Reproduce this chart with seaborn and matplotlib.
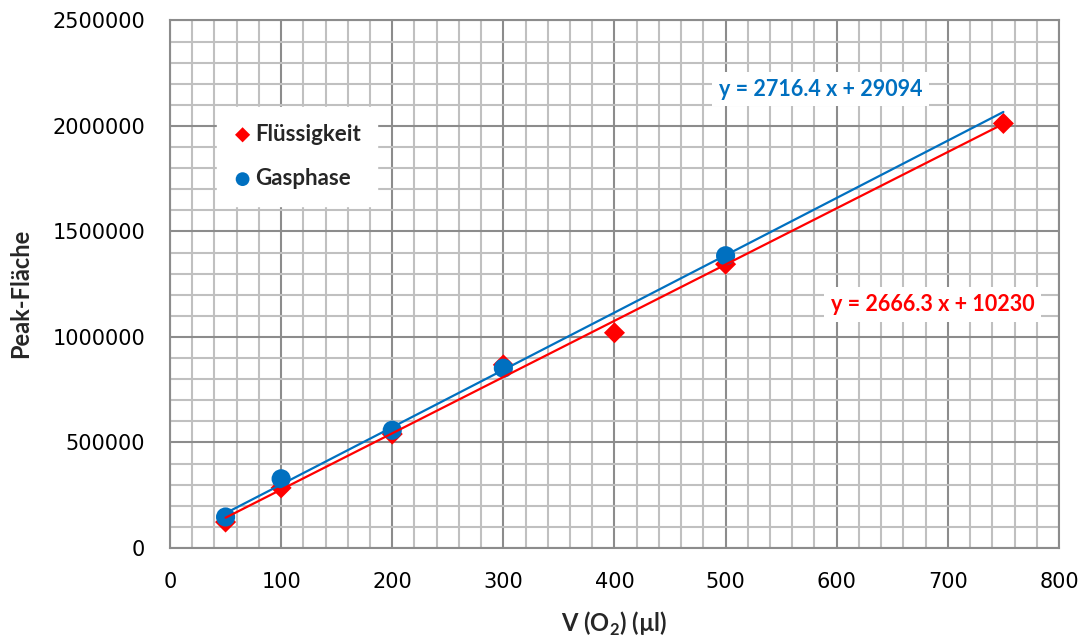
import numpy as np
import pandas as pd
import matplotlib
matplotlib.use("Agg")
import matplotlib.pyplot as plt
import seaborn as sns
from matplotlib.ticker import MultipleLocator

# data
x_fluessig = [50, 100, 200, 300, 400, 500, 750]
y_fluessig = [123000, 285000, 540000, 868000, 1020000, 1345000, 2012000]
x_gas = [50, 100, 200, 300, 500]
y_gas = [147000, 328000, 558000, 852000, 1385000]
# trendline coefficients as printed on the chart
fit_fluessig = (2666.3, 10230)
fit_gas = (2716.4, 29094)
fit_range = [50, 750]

red = "#ff0000"
blue = "#0070c0"

sns.set_theme(style="white")
plt.rcParams["font.family"] = ["DejaVu Sans"]
plt.rcParams["mathtext.fontset"] = "custom"
plt.rcParams["mathtext.rm"] = "Lato"
plt.rcParams["mathtext.bf"] = "Lato:bold"

fig = plt.figure(figsize=(10.87, 6.39), dpi=100)
ax = fig.add_axes([0.1564, 0.1424, 0.8178, 0.8256])

df_f = pd.DataFrame({"x": x_fluessig, "y": y_fluessig})
df_g = pd.DataFrame({"x": x_gas, "y": y_gas})
sns.scatterplot(data=df_f, x="x", y="y", marker="D", s=115, color=red,
                edgecolor="none", ax=ax, zorder=3, label="Flüssigkeit")
sns.scatterplot(data=df_g, x="x", y="y", marker="o", s=190, color=blue,
                edgecolor="none", ax=ax, zorder=4, label="Gasphase")

fx = np.array(fit_range, dtype=float)
tl_f = pd.DataFrame({"x": fx, "y": fit_fluessig[0] * fx + fit_fluessig[1]})
tl_g = pd.DataFrame({"x": fx, "y": fit_gas[0] * fx + fit_gas[1]})
sns.lineplot(data=tl_g, x="x", y="y", color=blue, lw=1.6, ax=ax, zorder=5)
sns.lineplot(data=tl_f, x="x", y="y", color=red, lw=1.6, ax=ax, zorder=5)

ax.set_xlim(0, 800)
ax.set_ylim(0, 2500000)
ax.xaxis.set_major_locator(MultipleLocator(100))
ax.xaxis.set_minor_locator(MultipleLocator(20))
ax.yaxis.set_major_locator(MultipleLocator(500000))
ax.yaxis.set_minor_locator(MultipleLocator(100000))
ax.grid(which="major", color="#8c8c8c", lw=1.5)
ax.grid(which="minor", color="#c0c0c0", lw=1.5)
ax.set_axisbelow(True)
for sp in ax.spines.values():
    sp.set_color("#8c8c8c")
    sp.set_linewidth(1.5)
ax.tick_params(axis="both", which="major", direction="out", length=6, width=1.5,
               color="#8c8c8c", labelsize=15, labelcolor="black")
ax.tick_params(axis="both", which="minor", length=0)
ax.tick_params(axis="x", pad=11)
ax.tick_params(axis="y", pad=12)
ax.set_xticks(range(0, 801, 100))
ax.set_xticklabels([str(v) for v in range(0, 801, 100)])
ax.set_yticks(range(0, 2500001, 500000))
ax.set_yticklabels([str(v) for v in range(0, 2500001, 500000)])

ax.set_xlabel(r"V (O$_{\mathbf{2}}$) (µl)", fontfamily="Lato", fontweight="bold",
              fontsize=17)
ax.set_ylabel("Peak-Fläche", fontfamily="Lato", fontweight="bold", fontsize=17)
ax.xaxis.set_label_coords(0.5, -0.118)
ax.yaxis.set_label_coords(-0.155, 0.482)

leg = ax.legend(loc="upper left", bbox_to_anchor=(0.0529, 0.836), frameon=True,
                fancybox=False, edgecolor="white", framealpha=1,
                prop={"family": "Lato", "weight": "bold", "size": 16},
                handlelength=0.8, handletextpad=0.15, labelspacing=1.05,
                borderpad=0.75, borderaxespad=0, markerscale=0.72)

ax.text(0.732, 0.870, "y = 2716.4 x + 29094", transform=ax.transAxes, color=blue,
        fontfamily="Lato", fontweight="bold", fontsize=15.5, ha="center", va="center",
        bbox=dict(facecolor="white", edgecolor="none", pad=5), zorder=6)
ax.text(0.858, 0.461, "y = 2666.3 x + 10230", transform=ax.transAxes, color=red,
        fontfamily="Lato", fontweight="bold", fontsize=15.5, ha="center", va="center",
        bbox=dict(facecolor="white", edgecolor="none", pad=5), zorder=6)

fig.savefig("out.png", dpi=100)
